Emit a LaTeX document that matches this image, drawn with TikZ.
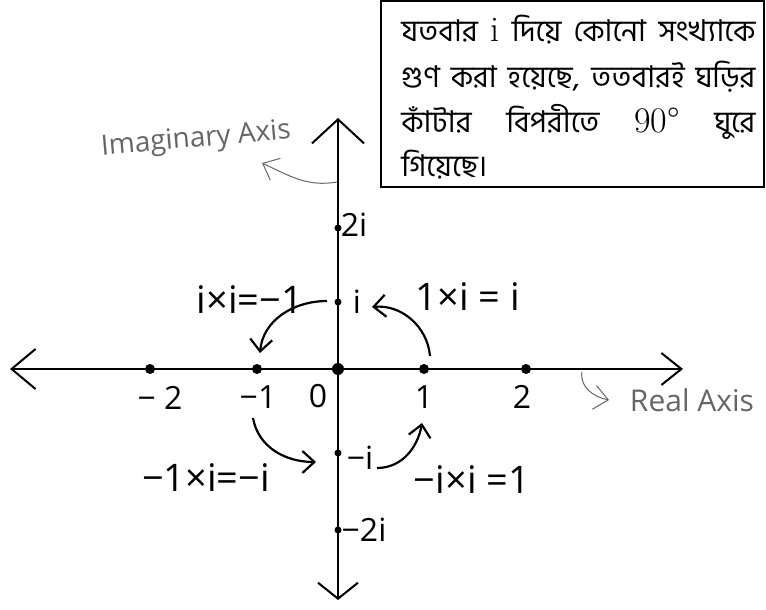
\documentclass[tikz,border=0pt]{standalone}
\usepackage{fontspec}
\usepackage{tikz}
\usetikzlibrary{arrows.meta}
\newfontfamily\bnfont[Script=Bengali]{Hind Siliguri}
\newfontfamily\handfont{Open Sans}
\newcommand{\hand}[1]{{\handfont\fontsize{16}{16}\selectfont #1}}
\newcommand{\eqn}[1]{{\handfont\fontsize{19}{19}\selectfont #1}}
\newcommand{\latn}[1]{{\rmfamily\fontsize{18}{18}\selectfont #1}}

\begin{document}
\begin{tikzpicture}[x=0.5pt,y=0.5pt,
  dot/.style={circle,fill,inner sep=0pt,minimum size=5pt},
  smalldot/.style={circle,fill,inner sep=0pt,minimum size=3.5pt},
  turn/.style={line width=1.1pt,-{Straight Barb[length=6pt,width=11pt]}},
  note/.style={black!60,line width=0.5pt,-{Straight Barb[length=7pt,width=12pt]}},
  lab/.style={inner sep=0pt},
  boxline/.style={anchor=base west,inner sep=0pt,font=\bnfont\fontsize{15}{15}\selectfont}]

\useasboundingbox (-338,-241) rectangle (428,369);

\coordinate (xl) at (-328,0);
\coordinate (xr) at (345,0);
\coordinate (yb) at (0,-231);
\coordinate (yt) at (0,251);

\draw[line width=1pt,{Straight Barb[length=12pt,width=20pt]}-{Straight Barb[length=10pt,width=16pt]}] (xl)--(xr);
\draw[line width=1pt,{Straight Barb[length=8pt,width=20pt]}-{Straight Barb[length=12pt,width=26pt]}] (yb)--(yt);

\node[dot] (m2) at (-188,0) {};
\node[dot] (m1) at (-81,0) {};
\node[dot,minimum size=6pt] (o) at (0,0) {};
\node[dot] (p1) at (86,0) {};
\node[dot] (p2) at (188,0) {};

\node[smalldot] (i2) at (0,141) {};
\node[smalldot] (i1) at (0,67) {};
\node[smalldot] (mi1) at (0,-84) {};
\node[smalldot] (mi2) at (0,-161) {};

\node[lab] (lm2) at (-178,-29) {\hand{− 2}};
\node[lab] (lm1) at (-80,-28) {\hand{−1}};
\node[lab] (lo) at (-20,-27) {\hand{0}};
\node[lab] (lp1) at (86,-28) {\hand{1}};
\node[lab] (lp2) at (184,-28) {\hand{2}};

\node[lab] (li2) at (16,144) {\hand{2i}};
\node[lab] (li1) at (19,67) {\hand{i}};
\node[lab] (lmi1) at (22,-89) {\hand{−i}};
\node[lab] (lmi2) at (26,-161) {\hand{−2i}};

\node[lab] (e1) at (130,72) {\eqn{1×i = i}};
\node[lab] (e2) at (-88,69) {\eqn{i×i=−1}};
\node[lab] (e3) at (-132,-109) {\eqn{−1×i=−i}};
\node[lab] (e4) at (134,-111) {\eqn{−i×i =1}};

\coordinate (a1s) at (92,13);
\coordinate (a1e) at (34,62);
\coordinate (a2s) at (-11,68);
\coordinate (a2e) at (-78,16);
\coordinate (a3s) at (-85,-49);
\coordinate (a3e) at (-22,-93);
\coordinate (a4s) at (39,-99);
\coordinate (a4e) at (84,-54);

\draw[turn] (a1s) to[out=95,in=5] (a1e);
\draw[turn] (a2s) to[out=180,in=85] (a2e);
\draw[turn] (a3s) to[out=-80,in=180] (a3e);
\draw[turn] (a4s) to[out=0,in=-100] (a4e);

\node[lab,black!60,rotate=5] (imlab) at (-142,229) {{\handfont\fontsize{14}{14}\selectfont Imaginary Axis}};
\node[lab,black!60] (relab) at (354,-31) {{\handfont\fontsize{15}{15}\selectfont Real Axis}};

\coordinate (ims) at (-1,187);
\coordinate (ime) at (-76,206);
\coordinate (res) at (244,-3);
\coordinate (ree) at (271,-31);

\draw[note] (ims) to[out=190,in=-25] (ime);
\draw[note] (res) to[out=-100,in=170] (ree);

\draw[line width=0.75pt] (43,368) rectangle (426,182);

\node[boxline] (t1) at (63,327) {\makebox[177pt][s]{যতবার \latn{i} দিয়ে কোনো সংখ্যাকে}};
\node[boxline] (t2) at (63,281) {\makebox[177pt][s]{গুণ করা হয়েছে, ততবারই ঘড়ির}};
\node[boxline] (t3) at (63,236) {\makebox[177pt][s]{কাঁটার বিপরীতে \latn{90°} ঘুরে}};
\node[boxline] (t4) at (63,192) {গিয়েছে।};

\end{tikzpicture}
\end{document}
